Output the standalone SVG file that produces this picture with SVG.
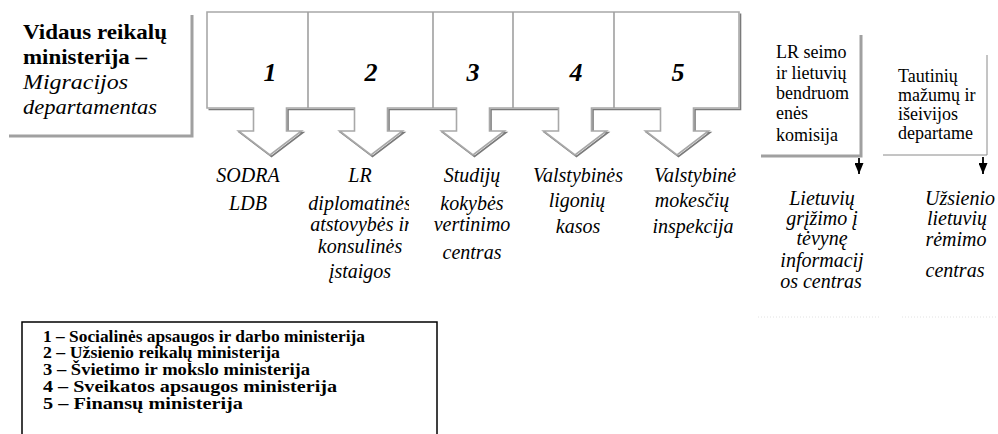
<svg xmlns="http://www.w3.org/2000/svg" width="998" height="434" viewBox="0 0 998 434">
<style>
  text { font-family: "Liberation Serif", "Times New Roman", "DejaVu Serif", serif; fill: #000; }
  .b { font-weight: bold; }
  .i { font-style: italic; }
  .num { font-size: 26px; font-weight: bold; font-style: italic; text-anchor: middle; }
  .lbl { font-size: 20px; font-style: italic; text-anchor: middle; }
  .small { font-size: 18px; }
  .leg { font-size: 16px; font-weight: bold; }
  .shadow { fill: none; stroke: #7a7a7a; stroke-width: 1.6; stroke-linejoin: miter; }
  .outline { fill: #fff; stroke: #a8a8a8; stroke-width: 1.6; stroke-linejoin: miter; }
  .div { stroke: #a0a0a0; stroke-width: 1.6; fill: none; }
  .gbar { stroke: #a0a0a0; stroke-width: 3; fill: none; }
  .thin { stroke: #8a8a8a; stroke-width: 1; fill: none; }
  .conn { stroke: #000; stroke-width: 1.8; fill: none; }
</style>
<defs>
  <marker id="ah" markerWidth="11" markerHeight="9" refX="11" refY="4.5" orient="auto" markerUnits="userSpaceOnUse" viewBox="0 0 11 9">
    <path d="M0,0 L11,4.5 L0,9 Z" fill="#000"/>
  </marker>
  <clipPath id="col2"><rect x="300" y="160" width="109" height="130"/></clipPath>
</defs>
<rect width="998" height="434" fill="#fff"/>

<g id="ministry">
  <path class="gbar" d="M192,15 V136 H9"/>
  <text class="b" x="23" y="39" font-size="21" textLength="144" lengthAdjust="spacingAndGlyphs">Vidaus reikalų</text>
  <text class="b" x="23" y="64" font-size="21" textLength="124" lengthAdjust="spacingAndGlyphs">ministerija –</text>
  <text class="i" x="23" y="89" font-size="22" textLength="105" lengthAdjust="spacingAndGlyphs">Migracijos</text>
  <text class="i" x="23" y="114" font-size="22" textLength="134" lengthAdjust="spacingAndGlyphs">departamentas</text>
</g>

<g id="callouts">
  <path class="shadow" transform="translate(1.5,1.5)" d="M739,12 V108 H693.5 V131 H708.5 L677,155 L645.5,131 H660.5 V108 H591.5 V131 H606.5 L575,155 L543.5,131 H558.5 V108 H489.5 V131 H504.5 L473,155 L441.5,131 H456.5 V108 H387.5 V131 H402.5 L371,155 L339.5,131 H354.5 V108 H286.5 V131 H301.5 L270,155 L238.5,131 H253.5 V108 H207"/>
  <path class="outline" d="M207,12 H739 V108 H693.5 V131 H708.5 L677,155 L645.5,131 H660.5 V108 H591.5 V131 H606.5 L575,155 L543.5,131 H558.5 V108 H489.5 V131 H504.5 L473,155 L441.5,131 H456.5 V108 H387.5 V131 H402.5 L371,155 L339.5,131 H354.5 V108 H286.5 V131 H301.5 L270,155 L238.5,131 H253.5 V108 H207 Z"/>
  <path class="div" d="M308,12 V108 M433,12 V108 M513,12 V108 M614,12 V108"/>
</g>

<g id="node-1">
  <text class="num" x="270" y="81">1</text>
  <text class="lbl" x="248" y="182">SODRA</text>
  <text class="lbl" x="248" y="210">LDB</text>
</g>
<g id="node-2">
  <text class="num" x="371" y="81">2</text>
  <g clip-path="url(#col2)">
    <text class="lbl" x="360" y="182">LR</text>
    <text class="lbl" x="360" y="210">diplomatinės</text>
    <text class="lbl" x="361" y="231">atstovybės ir</text>
    <text class="lbl" x="360" y="253">konsulinės</text>
    <text class="lbl" x="360" y="278">įstaigos</text>
  </g>
</g>
<g id="node-3">
  <text class="num" x="473" y="81">3</text>
  <text class="lbl" x="472" y="182">Studijų</text>
  <text class="lbl" x="472" y="210">kokybės</text>
  <text class="lbl" x="472" y="231">vertinimo</text>
  <text class="lbl" x="472" y="259">centras</text>
</g>
<g id="node-4">
  <text class="num" x="576" y="81">4</text>
  <text class="lbl" x="578" y="182">Valstybinės</text>
  <text class="lbl" x="577" y="207">ligonių</text>
  <text class="lbl" x="578" y="233">kasos</text>
</g>
<g id="node-5">
  <text class="num" x="678" y="81">5</text>
  <text class="lbl" x="695" y="182">Valstybinė</text>
  <text class="lbl" x="692" y="207">mokesčių</text>
  <text class="lbl" x="693" y="233">inspekcija</text>
</g>

<g id="lr-seimo-komisija">
  <path class="gbar" d="M861,35 V156 H761"/>
  <text class="small" x="776" y="58">LR seimo</text>
  <text class="small" x="776" y="79">ir lietuvių</text>
  <text class="small" x="776" y="99">bendruom</text>
  <text class="small" x="776" y="119">enės</text>
  <text class="small" x="776" y="141">komisija</text>
</g>

<g id="tautiniu-departamentas">
  <path class="thin" d="M987,55 V155 H883"/>
  <text class="small" x="898" y="82">Tautinių</text>
  <text class="small" x="898" y="101">mažumų ir</text>
  <text class="small" x="898" y="120">išeivijos</text>
  <text class="small" x="898" y="139">departame</text>
</g>

<g id="lietuviu-grizimo-centras">
  <text class="lbl" x="822" y="205">Lietuvių</text>
  <text class="lbl" x="822" y="225">grįžimo į</text>
  <text class="lbl" x="822" y="245">tėvynę</text>
  <text class="lbl" x="822" y="267">informacij</text>
  <text class="lbl" x="821" y="288">os centras</text>
  <path d="M758,317 H880" stroke="#e2e2e2" stroke-width="1" stroke-dasharray="1 2"/>
</g>

<g id="uzsienio-lietuviu-centras">
  <text class="lbl" x="960" y="205">Užsienio</text>
  <text class="lbl" x="957" y="225">lietuvių</text>
  <text class="lbl" x="956" y="246">rėmimo</text>
  <text class="lbl" x="955" y="277">centras</text>
  <path d="M902,317 H998" stroke="#e2e2e2" stroke-width="1" stroke-dasharray="1 2"/>
</g>

<g id="connectors">
  <line class="conn" x1="859" y1="158" x2="859" y2="174" marker-end="url(#ah)"/>
  <line class="conn" x1="983" y1="157" x2="983" y2="174" marker-end="url(#ah)"/>
</g>

<g id="legend">
  <rect x="22" y="322" width="415" height="130" fill="none" stroke="#000" stroke-width="1.5"/>
  <text class="leg" x="43" y="342" textLength="322" lengthAdjust="spacingAndGlyphs">1 – Socialinės apsaugos ir darbo ministerija</text>
  <text class="leg" x="43" y="358" textLength="237" lengthAdjust="spacingAndGlyphs">2 – Užsienio reikalų ministerija</text>
  <text class="leg" x="43" y="375" textLength="267" lengthAdjust="spacingAndGlyphs">3 – Švietimo ir mokslo ministerija</text>
  <text class="leg" x="43" y="392" textLength="294" lengthAdjust="spacingAndGlyphs">4 – Sveikatos apsaugos ministerija</text>
  <text class="leg" x="43" y="409" textLength="200" lengthAdjust="spacingAndGlyphs">5 – Finansų ministerija</text>
</g>
</svg>
